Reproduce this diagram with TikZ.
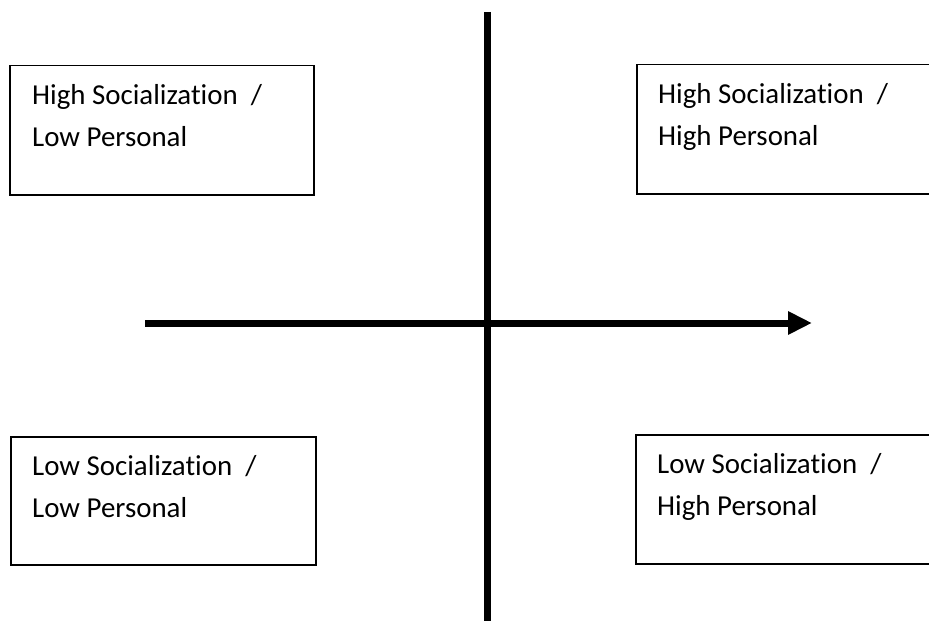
\documentclass[tikz,border=0pt]{standalone}
\usepackage{fontspec}
\setmainfont[Ligatures=NoCommon]{Carlito}
\usetikzlibrary{positioning,arrows.meta}

\tikzset{
  quadbox/.style={draw, line width=1.5bp, minimum width=304bp, minimum height=129bp,
    inner sep=0pt, anchor=north west},
  quadtxt/.style={align=left, inner sep=0pt, anchor=north west,
    font=\fontsize{29}{42}\selectfont},
  axisline/.style={line width=7bp}
}

\begin{document}
\begin{tikzpicture}[x=1bp, y=-1bp]
  \useasboundingbox (0,0) rectangle (929,622);
  \clip (0,0) rectangle (929,622);

  % the four quadrant boxes
  \node[quadbox] (hslp) at (9,65) {};
  \node[quadbox, minimum width=340bp] (hshp) at (636,64) {};
  \node[quadbox, minimum width=305bp, minimum height=128bp] (lslp) at (10,436) {};
  \node[quadbox, minimum width=340bp] (lshp) at (635,434) {};

  \node[quadtxt] (hslptxt) at ([shift={(23bp,-19bp)}]hslp.north west) {High Socialization~~/\\Low Personal};
  \node[quadtxt] (hshptxt) at ([shift={(22bp,-19bp)}]hshp.north west) {High Socialization~~/\\High Personal};
  \node[quadtxt] (lslptxt) at ([shift={(22bp,-19bp)}]lslp.north west) {Low Socialization~~/\\Low Personal};
  \node[quadtxt] (lshptxt) at ([shift={(22bp,-19bp)}]lshp.north west) {Low Socialization~~/\\High Personal};

  % axes
  \coordinate (vtop) at (487,12);
  \coordinate (vbot) at (487,621);
  \coordinate (hleft) at (145,323);
  \coordinate (hright) at (812,323);
  \draw[axisline] (vtop) -- (vbot);
  \draw[axisline, -{Triangle[length=24bp, width=22bp]}] (hleft) -- (hright);
\end{tikzpicture}
\end{document}
